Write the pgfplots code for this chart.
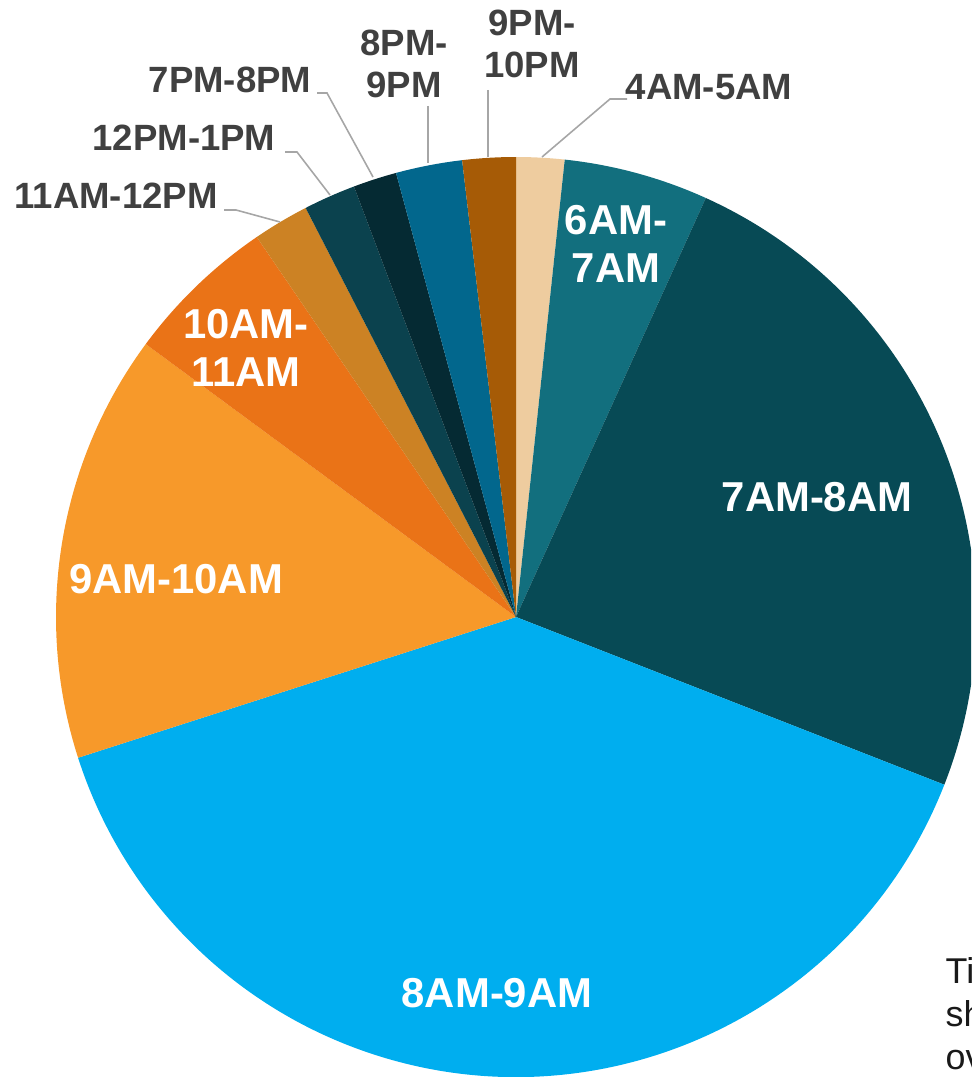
\documentclass[border=0pt]{standalone}
\usepackage{pgfplots}
\pgfplotsset{compat=1.18}
\usepackage{pgfplotstable}
\usepackage{fontspec}
\setmainfont{Liberation Sans}

\definecolor{c1}{HTML}{EECC9F}
\definecolor{c2}{HTML}{126F7E}
\definecolor{c3}{HTML}{074A55}
\definecolor{c4}{HTML}{00AEEF}
\definecolor{c5}{HTML}{F7992A}
\definecolor{c6}{HTML}{EA7317}
\definecolor{c7}{HTML}{CC8224}
\definecolor{c8}{HTML}{0B424E}
\definecolor{c9}{HTML}{052A33}
\definecolor{c10}{HTML}{02678D}
\definecolor{c11}{HTML}{A65B06}
\definecolor{labelgray}{HTML}{404040}
\definecolor{leader}{HTML}{A6A6A6}

% share of each hour slot (%), clockwise from 12 o'clock
\pgfplotstableread{
slot       pct    col
4AM-5AM    1.69   c1
6AM-7AM    5.08   c2
7AM-8AM    24.17  c3
8AM-9AM    39.11  c4
9AM-10AM   15.06  c5
10AM-11AM  5.36   c6
11AM-12PM  1.97   c7
12PM-1PM   1.83   c8
7PM-8PM    1.53   c9
8PM-9PM    2.33   c10
9PM-10PM   1.87   c11
}\piedata

\begin{document}
\begin{tikzpicture}
\begin{axis}[
    width=9.71cm, height=10.77cm, scale only axis,
    xmin=0, xmax=971, ymin=0, ymax=1077,
    y dir=reverse,
    hide axis,
]
\coordinate (tl) at (axis cs:0,0);
\coordinate (br) at (axis cs:971,1077);
\def\cum{0}
\pgfplotsforeachungrouped \i in {0,...,10}{
  \pgfplotstablegetelem{\i}{pct}\of\piedata \let\p\pgfplotsretval
  \pgfplotstablegetelem{\i}{col}\of\piedata \let\c\pgfplotsretval
  \pgfmathsetmacro\sa{90-3.6*\cum}
  \pgfmathsetmacro\cum{\cum+\p}
  \pgfmathsetmacro\ea{90-3.6*\cum}
  \edef\temp{\noexpand\fill[\c] (axis cs:516,617) -- ++(\sa:4.6cm)
    arc[start angle=\sa, end angle=\ea, radius=4.6cm] -- cycle;}
  \temp
}

\tikzset{inlab/.style={white, font=\bfseries\fontsize{11.9}{13.7}\selectfont, align=center, inner sep=0pt},
         outlab/.style={labelgray, font=\bfseries\fontsize{10.4}{11.9}\selectfont, align=center, inner sep=0pt}}
% inside labels
\node[inlab] at (axis cs:616,244) {6AM-\\7AM};
\node[inlab] at (axis cs:817,497) {7AM-8AM};
\node[inlab] at (axis cs:497,993) {8AM-9AM};
\node[inlab] at (axis cs:176,579) {9AM-10AM};
\node[inlab] at (axis cs:246,348) {10AM-\\11AM};

% outside labels
\node[outlab] at (axis cs:709,87) {4AM-5AM};
\node[outlab] at (axis cs:116,196) {11AM-12PM};
\node[outlab] at (axis cs:184,138) {12PM-1PM};
\node[outlab] at (axis cs:230,80) {7PM-8PM};
\node[outlab] at (axis cs:404,64) {8PM-\\9PM};
\node[outlab] at (axis cs:532,44) {9PM-\\10PM};

% leader lines
\draw[leader, line width=0.45pt] (axis cs:627,99) -- (axis cs:610,99) -- (axis cs:542,157);
\draw[leader, line width=0.45pt] (axis cs:224,210) -- (axis cs:236,210) -- (axis cs:280,222);
\draw[leader, line width=0.45pt] (axis cs:285,152) -- (axis cs:297,152) -- (axis cs:330,195);
\draw[leader, line width=0.45pt] (axis cs:317,93) -- (axis cs:327,93) -- (axis cs:373,177);
\draw[leader, line width=0.45pt] (axis cs:428,106) -- (axis cs:428,163);
\draw[leader, line width=0.45pt] (axis cs:488,90) -- (axis cs:488,157);

% text box cut off at the right edge, as in the original
\node[anchor=west, align=left, inner sep=0pt, text=black!90,
      font=\fontsize{10.2}{12.2}\selectfont] at (axis cs:945,1014) {Time\\shown\\over};
\end{axis}
\pgfresetboundingbox
\path[use as bounding box] (tl) rectangle (br);
\end{tikzpicture}
\end{document}
